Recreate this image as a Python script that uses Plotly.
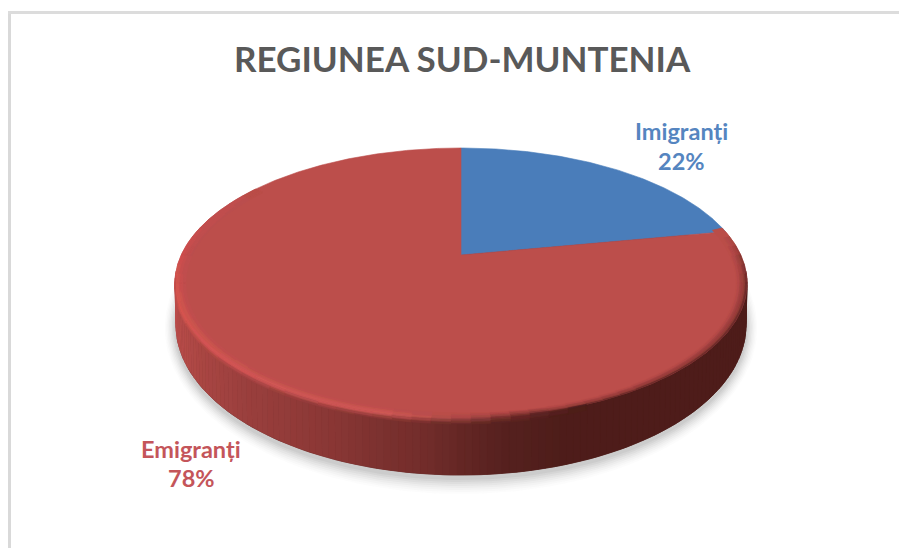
import numpy as np
import plotly.graph_objects as go

# ---- data ----
categories = ["Imigranți", "Emigranți"]
shares = [22, 78]
slice_colors = ["#4a7dba", "#bc4e4b"]
label_colors = ["#5585c0", "#c4555a"]
title_text = "REGIUNEA SUD-MUNTENIA"

W, H = 899, 548
CX, AY = 461.0, 255.0        # pie apex as drawn
TOP_CY, TOP_RX, TOP_RY = 283.0, 286.0, 135.0
BOT_CY, BOT_RX, BOT_RY = 325.0, 285.0, 150.0
K, VB, UC = 0.2073, 129.2, 279.8


def mix(a, b, t):
    return tuple(a[i] + (b[i] - a[i]) * t for i in range(3))


def rgb(h):
    return tuple(int(h[i:i + 2], 16) for i in (1, 3, 5))


def hx(c, q=4):
    return "#%02x%02x%02x" % tuple(int(min(255, round(v / q) * q)) for v in c)


def interp(stops, x):
    xs = [s[0] for s in stops]
    return tuple(np.interp(x, xs, [rgb(s[1])[i] for s in stops]) for i in range(3))


def pie_point(theta):
    """theta: clockwise angle from 12 o'clock, perspective-projected disc"""
    u, v = np.sin(theta), np.cos(theta)
    d = 1 + K * v
    return CX + UC * u / d, AY - VB * v / d


def ell(phi, cy, rx, ry, s=1.0):
    return CX + s * rx * np.cos(phi), cy + s * ry * np.sin(phi)


fig = go.Figure()


def poly(xs, ys, color):
    fig.add_trace(go.Scatter(x=list(xs), y=list(ys), mode="lines", fill="toself",
                             fillcolor=color, line=dict(color=color, width=0.6),
                             hoverinfo="skip", showlegend=False))


# soft shadow
phi = np.linspace(0, 2 * np.pi, 240)
for e in range(16, 0, -2):
    a = 0.018 + 0.005 * (16 - e)
    col = f"rgba(120,120,120,{a:.3f})"
    x, y = ell(phi, BOT_CY + 3, BOT_RX + e * 0.7, BOT_RY + e)
    fig.add_trace(go.Scatter(x=x, y=y, mode="lines", fill="toself", fillcolor=col,
                             line=dict(width=0), hoverinfo="skip", showlegend=False))

# side wall, shaded by horizontal position
side_stops = [(175, "#ba4d4a"), (200, "#aa4643"), (240, "#9c403e"), (330, "#8a3735"), (430, "#702c2a"),
              (500, "#57211f"), (560, "#4e1d1a"), (750, "#4e1d1a")]
x, y = ell(phi, BOT_CY, BOT_RX, BOT_RY)
poly(x, y, "#4e1d1a")
edges = np.radians(np.linspace(-5, 185, 128))
for a, b in zip(edges[:-1], edges[1:]):
    p = np.linspace(a, b, 4)
    x1, y1 = ell(p, TOP_CY, TOP_RX, TOP_RY)
    x2, y2 = ell(p[::-1], BOT_CY, BOT_RX, BOT_RY)
    c = interp(side_stops, 0.5 * (x1[1] + x2[2]))
    poly(np.r_[x1, x2, x1[0]], np.r_[y1, y2, y1[0]], hx(c, 2))

# top surface: one slice per value
total = sum(shares)
start = 0.0
for share, color in zip(shares, slice_colors):
    end = start + share / total * 2 * np.pi
    th = np.linspace(start, end, max(int(share * 8), 40))
    x, y = pie_point(th)
    poly(np.r_[CX, x, CX], np.r_[AY, y, AY], color)
    start = end

# rim bevel: highlight on the left, dark blur on the right
surface = rgb(slice_colors[1])
edge_stops = [(-22, slice_colors[1]), (-10, "#6a2a28"), (0, "#4e1d1a"), (65, "#4e1d1a"),
              (78, "#6d2b29"), (88, "#a04543"), (105, "#d35c58"), (140, "#d75a56"),
              (178, "#dc5450"), (200, "#c94f4c"), (222, slice_colors[1])]
groups = {}


def add_seg(xa, ya, xb, yb, c):
    g = groups.setdefault(hx(c, 6), ([], []))
    g[0].extend(list(np.r_[xa, xb, xa[0]]) + [None])
    g[1].extend(list(np.r_[ya, yb, ya[0]]) + [None])


N_RINGS = 8
ring = np.linspace(1.0, 0.962, N_RINGS + 1)
deg = np.arange(-24, 224, 4.0)
for i in range(N_RINGS):
    t = (i + 0.5) / N_RINGS
    for d0 in deg:
        power = 0.45 if d0 < 70 else 0.8
        c = mix(interp(edge_stops, d0 + 2), surface, t ** power)
        p = np.radians(np.linspace(d0, d0 + 4, 3))
        xo, yo = ell(p, TOP_CY, TOP_RX, TOP_RY, ring[i])
        xi, yi = ell(p[::-1], TOP_CY, TOP_RX, TOP_RY, ring[i + 1])
        add_seg(xo, yo, xi, yi, c)

# highlight fading downward onto the side wall
DROP = [0, 1.5, 3, 4.5, 6]
for j in range(len(DROP) - 1):
    t = (j + 0.5) / (len(DROP) - 1)
    for d0 in np.arange(64, 184, 4.0):
        p = np.radians(np.linspace(d0, d0 + 4, 3))
        xo, yo = ell(p, TOP_CY, TOP_RX, TOP_RY)
        c0 = interp(edge_stops, d0 + 2)
        c1 = interp(side_stops, xo[1])
        add_seg(xo, yo + DROP[j], xo[::-1], yo[::-1] + DROP[j + 1], mix(c0, c1, t))

for color, (gx, gy) in groups.items():
    poly(gx, gy, color)

FONT = "Lato, 'Open Sans', sans-serif"
label_pos = {"Imigranți": (681, 131, 161), "Emigranți": (191, 449, 478)}
annotations = []
for cat, share, col in zip(categories, shares, label_colors):
    lx, y1, y2 = label_pos[cat]
    for txt, ly in ((cat, y1), (f"{share}%", y2)):
        annotations.append(dict(x=lx, y=ly, xref="x", yref="y", text=f"<b>{txt}</b>",
                                showarrow=False, xanchor="center", yanchor="middle",
                                font=dict(family=FONT, size=23.5, color=col)))
annotations.append(dict(x=462, y=58, xref="x", yref="y", text=f"<b>{title_text}</b>",
                        showarrow=False, xanchor="center", yanchor="middle",
                        font=dict(family=FONT, size=35, color="#595959")))

shapes = [dict(type="line", x0=9.5, x1=9.5, y0=12.5, y1=H, line=dict(color="#d9d9d9", width=3), layer="below"),
          dict(type="line", x0=8, x1=W, y0=12.5, y1=12.5, line=dict(color="#dcdcdc", width=3), layer="below")]

fig.update_layout(
    width=W, height=H, margin=dict(l=0, r=0, t=0, b=0),
    paper_bgcolor="white", plot_bgcolor="white", showlegend=False,
    xaxis=dict(range=[0, W], visible=False, fixedrange=True),
    yaxis=dict(range=[H, 0], visible=False, fixedrange=True),
    annotations=annotations, shapes=shapes,
)
fig.write_html("out.html", config={"displayModeBar": False},
               post_script="document.body.style.margin='0';document.body.style.overflow='hidden';")
